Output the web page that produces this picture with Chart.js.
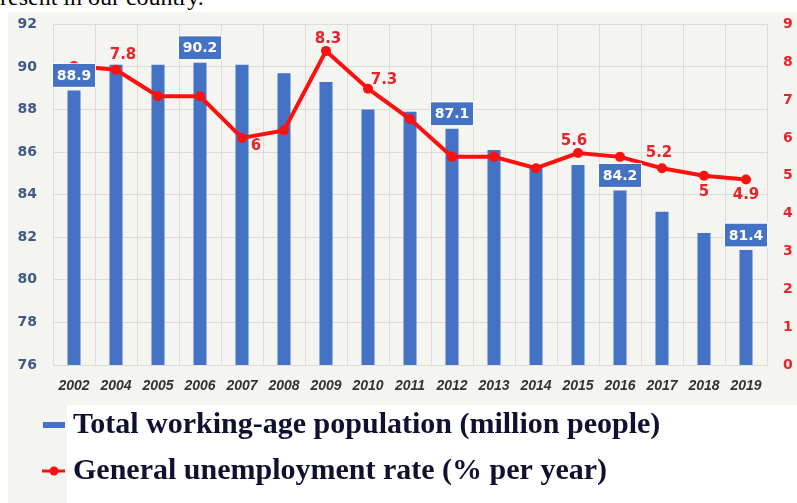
<!DOCTYPE html>
<html>
<head>
<meta charset="utf-8">
<script src="https://cdn.jsdelivr.net/npm/chart.js@4.4.0/dist/chart.umd.min.js"></script>
<style>
  html, body { margin: 0; padding: 0; background: #fff; overflow: hidden; width: 797px; height: 503px; }
  #caption { position: absolute; left: -12px; top: -15px; font: 24px "Liberation Serif", serif; color: #000; white-space: nowrap; line-height: 1; }
  #panel { position: absolute; left: 8px; top: 12px; width: 789px; height: 393px; background: #f4f4f0; }
  #strip { position: absolute; left: 8px; top: 405px; width: 59px; height: 98px; background: #f4f4f0; }
  #chart { position: absolute; left: 0; top: 0; }
</style>
</head>
<body>
<div id="caption">present in our country.</div>
<div id="panel"></div>
<div id="strip"></div>
<canvas id="chart" width="797" height="520"></canvas>
<script>
// data
const years = ['2002', '2004', '2005', '2006', '2007', '2008', '2009', '2010', '2011', '2012', '2013', '2014', '2015', '2016', '2017', '2018', '2019'];
const workingAge = [88.9, 90.1, 90.1, 90.2, 90.1, 89.7, 89.3, 88.0, 87.9, 87.1, 86.1, 85.3, 85.4, 84.2, 83.2, 82.2, 81.4];
const unemployment = [7.9, 7.8, 7.1, 7.1, 6.0, 6.2, 8.3, 7.3, 6.5, 5.5, 5.5, 5.2, 5.6, 5.5, 5.2, 5.0, 4.9];
const leftTicks = [76, 78, 80, 82, 84, 86, 88, 90, 92];
const rightTicks = [0, 1, 2, 3, 4, 5, 6, 7, 8, 9];
const barLabelYears = ['2002', '2006', '2012', '2016', '2019'];
const lineLabelYears = ['2004', '2007', '2009', '2010', '2015', '2017', '2018', '2019'];
const seriesNames = ['Total working-age population (million people)', 'General unemployment rate (% per year)'];

// styles
const barColor = '#4472c4';
const lineColor = '#ff1010';
const labelRed = '#e8232b';
// where each red value label sits relative to its point
const lineLabelOffset = {
  '2004': [7, -15], '2007': [14, 8], '2009': [2, -12], '2010': [16, -9],
  '2015': [-4, -12], '2017': [-3, -15], '2018': [0, 16], '2019': [0, 16]
};

// legend marker image; the left part stays empty so the mark lands next to the text
function legendMarker(kind) {
  const c = document.createElement('canvas');
  c.width = 56; c.height = 12;
  const g = c.getContext('2d');
  if (kind === 'bar') {
    g.fillStyle = barColor;
    g.fillRect(34, 3, 22, 6);
  } else {
    g.strokeStyle = lineColor;
    g.lineWidth = 3;
    g.beginPath(); g.moveTo(33, 6); g.lineTo(56, 6); g.stroke();
    g.fillStyle = lineColor;
    g.beginPath(); g.arc(45, 6, 4.5, 0, Math.PI * 2); g.fill();
  }
  return c;
}

// value labels: red numbers near the line, blue boxes above some bars
const valueLabels = {
  id: 'valueLabels',
  afterDatasetsDraw(chart) {
    const ctx = chart.ctx;
    const barMeta = chart.getDatasetMeta(0);
    const lineMeta = chart.getDatasetMeta(1);
    ctx.save();
    ctx.textAlign = 'center';
    ctx.textBaseline = 'middle';

    ctx.font = 'bold 15px "DejaVu Sans", sans-serif';
    ctx.fillStyle = labelRed;
    lineLabelYears.forEach(y => {
      const i = years.indexOf(y);
      const pt = lineMeta.data[i];
      const off = lineLabelOffset[y];
      ctx.fillText(String(unemployment[i]), pt.x + off[0], pt.y + off[1]);
    });

    ctx.font = 'bold 14px "DejaVu Sans", sans-serif';
    barLabelYears.forEach(y => {
      const i = years.indexOf(y);
      const bar = barMeta.data[i];
      const cx = bar.x, cy = bar.y - 15;
      ctx.fillStyle = barColor;
      ctx.fillRect(cx - 21, cy - 11.5, 42, 23);
      ctx.strokeStyle = 'rgba(255,255,255,0.85)';
      ctx.lineWidth = 1;
      ctx.strokeRect(cx - 21.5, cy - 12, 43, 24);
      ctx.fillStyle = '#fff';
      ctx.fillText(workingAge[i].toFixed(1), cx, cy + 1);
    });
    ctx.restore();
  }
};

const gridColor = '#dddcd6';

new Chart(document.getElementById('chart'), {
  type: 'bar',
  data: {
    labels: years,
    datasets: [{
      type: 'bar',
      label: seriesNames[0],
      data: workingAge,
      yAxisID: 'y',
      backgroundColor: barColor,
      categoryPercentage: 1,
      barPercentage: 0.31,
      order: 2
    }, {
      type: 'line',
      label: seriesNames[1],
      data: unemployment,
      yAxisID: 'y1',
      borderColor: lineColor,
      backgroundColor: lineColor,
      borderWidth: 4,
      pointRadius: 5,
      pointBackgroundColor: lineColor,
      pointBorderWidth: 0,
      tension: 0,
      order: 1
    }]
  },
  options: {
    responsive: false,
    animation: false,
    devicePixelRatio: 1,
    layout: { padding: { left: 0, right: 0, top: 21, bottom: 24 } },
    plugins: {
      tooltip: { enabled: false },
      legend: {
        position: 'bottom',
        align: 'start',
        labels: {
          usePointStyle: true,
          pointStyleWidth: 42,
          padding: 16,
          color: '#101030',
          font: { family: '"Liberation Serif", "Times New Roman", serif', weight: 'bold', size: 30 },
          generateLabels: () => [
            { text: seriesNames[0], pointStyle: legendMarker('bar'), fillStyle: barColor, strokeStyle: 'transparent', lineWidth: 0, hidden: false, datasetIndex: 0, fontColor: '#101030' },
            { text: seriesNames[1], pointStyle: legendMarker('line'), fillStyle: lineColor, strokeStyle: 'transparent', lineWidth: 0, hidden: false, datasetIndex: 1, fontColor: '#101030' }
          ]
        }
      }
    },
    scales: {
      x: {
        grid: { color: gridColor, drawTicks: false, offset: true },
        border: { color: gridColor },
        ticks: {
          padding: 13,
          color: '#333',
          maxRotation: 0,
          autoSkip: false,
          font: { family: '"Liberation Sans", Arial, sans-serif', weight: 'bold', style: 'italic', size: 14 }
        },
        afterFit: s => { s.height = 29; }
      },
      y: {
        position: 'left',
        min: 76,
        max: 92,
        afterBuildTicks: s => { s.ticks = leftTicks.map(v => ({ value: v })); },
        grid: { color: gridColor, drawTicks: false },
        border: { color: gridColor },
        ticks: { padding: 16, color: '#41598a', font: { family: '"DejaVu Sans", sans-serif', weight: 'bold', size: 14 } },
        afterFit: s => { s.width = 53; }
      },
      y1: {
        position: 'right',
        min: 0,
        max: 9,
        afterBuildTicks: s => { s.ticks = rightTicks.map(v => ({ value: v })); },
        grid: { display: false, drawTicks: false },
        border: { display: false },
        ticks: { padding: 16, color: labelRed, font: { family: '"DejaVu Sans", sans-serif', weight: 'bold', size: 14 } },
        afterFit: s => { s.width = 30; }
      }
    }
  },
  plugins: [valueLabels]
});
</script>
</body>
</html>
